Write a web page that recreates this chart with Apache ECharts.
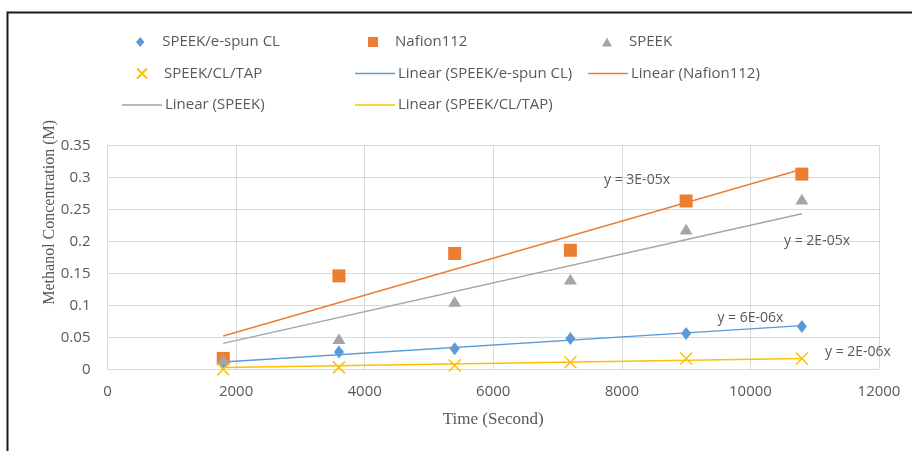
<!DOCTYPE html>
<html>
<head>
<meta charset="utf-8">
<script src="https://cdn.jsdelivr.net/npm/echarts@6/dist/echarts.min.js"></script>
<style>
  html, body { margin: 0; padding: 0; background: #fff; }
  #chart { width: 912px; height: 451px; }
</style>
</head>
<body>
<div id="chart"></div>
<script>
// Sampling times (s) and methanol concentration (M) per membrane
const times = [1800, 3600, 5400, 7200, 9000, 10800];
const espunCL = [0.011, 0.027, 0.032, 0.048, 0.056, 0.067];
const nafion112 = [0.017, 0.146, 0.181, 0.186, 0.263, 0.305];
const speek = [0.015, 0.048, 0.106, 0.141, 0.219, 0.266];
const clTap = [0.0, 0.003, 0.006, 0.011, 0.017, 0.017];

const xTicks = { min: 0, max: 12000, interval: 2000 };
const yTicks = { min: 0, max: 0.35, interval: 0.05 };

const names = ['SPEEK/e-spun CL', 'Nafion112', 'SPEEK', 'SPEEK/CL/TAP'];
const colors = ['#5B9BD5', '#ED7D31', '#A5A5A5', '#FFC000'];
const seriesValues = [espunCL, nafion112, speek, clTap];

// where each trendline equation sits, in axis units
const eqLabelAt = [[10000, 0.0806], [8236, 0.2958], [11036, 0.2009], [11673, 0.0275]];

const diamondPath = 'path://M5,0L10,6L5,12L0,6Z';
const squarePath = 'path://M0,0H10V10H0Z';
const trianglePath = 'path://M5,0L10,9L0,9Z';
const crossPath = 'path://M0,0L10,10M10,0L0,10';
const strokePath = 'path://M0,0H40V1.5H0Z';
const symbols = [diamondPath, squarePath, trianglePath, crossPath];
const symbolSizes = [[12, 13], 13, [13, 12], 12];

// least-squares slope of a line through the origin
function slopeThroughOrigin(xs, ys) {
  let sxy = 0, sxx = 0;
  xs.forEach((x, i) => { sxy += x * ys[i]; sxx += x * x; });
  return sxy / sxx;
}
function excelSci(v) {
  const [m, e] = v.toExponential(0).split('e');
  const exp = parseInt(e, 10);
  const sign = exp < 0 ? '-' : '+';
  return m + 'E' + sign + String(Math.abs(exp)).padStart(2, '0');
}

const textGray = '#595959';
const gridGray = '#D9D9D9';

const series = [];
names.forEach((name, i) => {
  const k = slopeThroughOrigin(times, seriesValues[i]);
  const x0 = times[0], x1 = times[times.length - 1];
  series.push({
    name: 'Linear (' + name + ')',
    type: 'line',
    symbol: 'none',
    z: 2,
    data: [[x0, k * x0], [x1, k * x1]],
    lineStyle: { color: colors[i], width: 1.5 },
    itemStyle: { color: colors[i] },
    markPoint: {
      symbol: 'rect',
      symbolSize: 1,
      itemStyle: { color: 'rgba(0,0,0,0)' },
      label: {
        show: true,
        position: 'inside',
        color: textGray,
        fontSize: 14,
        fontFamily: 'Open Sans',
        formatter: 'y = ' + excelSci(k) + 'x'
      },
      data: [{ coord: eqLabelAt[i] }]
    }
  });
});
names.forEach((name, i) => {
  const isCross = i === 3;
  series.push({
    name: name,
    type: 'scatter',
    z: 3,
    symbol: symbols[i],
    symbolSize: symbolSizes[i],
    symbolKeepAspect: true,
    data: times.map((t, j) => [t, seriesValues[i][j]]),
    itemStyle: isCross
      ? { color: colors[i], borderColor: colors[i], borderWidth: 1.5, opacity: 1 }
      : { color: colors[i], opacity: 1 }
  });
});

// one legend entry per component so every entry sits in its own slot
function legendEntry(name, icon, left, rowCenter, isMarker) {
  return {
    left: left,
    top: rowCenter - 9,
    padding: 0,
    itemGap: 0,
    itemWidth: isMarker ? 10 : 40,
    itemHeight: isMarker ? 10 : 9,
    selectedMode: false,
    textStyle: {
      color: textGray,
      fontSize: 15,
      fontFamily: 'Open Sans',
      lineHeight: 18,
      padding: isMarker ? [0, 0, 0, 12] : [0, 0, 0, -2]
    },
    data: [{ name: name, icon: icon }]
  };
}
const rows = [42, 73.5, 105];
const legends = [
  legendEntry(names[0], diamondPath, 136, rows[0], true),
  legendEntry(names[1], squarePath, 368, rows[0], true),
  legendEntry(names[2], trianglePath, 602, rows[0], true),
  legendEntry(names[3], crossPath, 136, rows[1], true),
  legendEntry('Linear (' + names[0] + ')', strokePath, 355, rows[1], false),
  legendEntry('Linear (' + names[1] + ')', strokePath, 588, rows[1], false),
  legendEntry('Linear (' + names[2] + ')', strokePath, 122, rows[2], false),
  legendEntry('Linear (' + names[3] + ')', strokePath, 355, rows[2], false)
];

const option = {
  animation: false,
  backgroundColor: '#fff',
  textStyle: { fontFamily: 'Open Sans' },
  grid: { left: 107.5, right: 33, top: 145.3, bottom: 81.7 },
  legend: legends,
  xAxis: {
    type: 'value',
    min: xTicks.min, max: xTicks.max, interval: xTicks.interval,
    name: 'Time (Second)',
    nameLocation: 'middle',
    nameGap: 42,
    nameMoveOverlap: false,
    nameTextStyle: { fontFamily: 'Liberation Serif', fontSize: 17, color: textGray },
    axisLine: { show: true, lineStyle: { color: gridGray } },
    axisTick: { show: false },
    axisLabel: {
      color: textGray, fontSize: 15, margin: 15, fontFamily: 'Open Sans',
      formatter: v => String(v)
    },
    splitLine: { show: true, lineStyle: { color: gridGray } }
  },
  yAxis: {
    type: 'value',
    min: yTicks.min, max: yTicks.max, interval: yTicks.interval,
    name: 'Methanol Concentration (M)',
    nameLocation: 'middle',
    nameGap: 50,
    nameMoveOverlap: false,
    nameTextStyle: {
      fontFamily: 'Liberation Serif', fontSize: 16, color: textGray,
      padding: [0, 0, 0, 90]
    },
    axisLine: { show: true, lineStyle: { color: gridGray } },
    axisTick: { show: false },
    axisLabel: { color: textGray, fontSize: 15, margin: 17, fontFamily: 'Open Sans' },
    splitLine: { show: true, lineStyle: { color: gridGray } }
  },
  graphic: [{
    type: 'rect',
    silent: true,
    z: 100,
    shape: { x: 7.5, y: 12.5, width: 1200, height: 800 },
    style: { fill: 'none', stroke: '#1a1a1a', lineWidth: 2 }
  }],
  series: series
};

const chart = echarts.init(document.getElementById('chart'), null, { renderer: 'canvas' });
chart.setOption(option);
</script>
</body>
</html>
